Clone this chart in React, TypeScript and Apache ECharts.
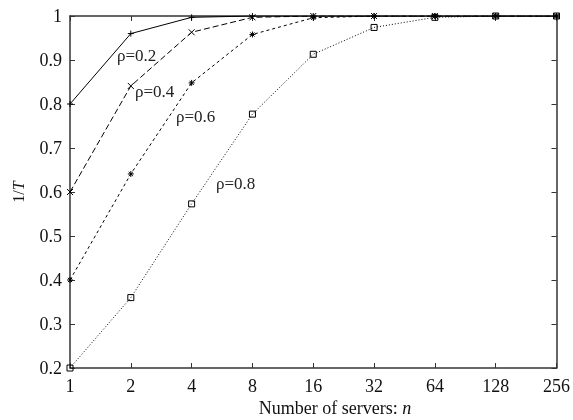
import React, { useEffect, useRef } from "react";
import * as echarts from "echarts";

const categories = ["1", "2", "4", "8", "16", "32", "64", "128", "256"];
const rho02 = [0.8, 0.96, 0.997, 1, 1, 1, 1, 1, 1];
const rho04 = [0.6, 0.841, 0.963, 0.997, 1, 1, 1, 1, 1];
const rho06 = [0.4, 0.641, 0.848, 0.958, 0.996, 1, 1, 1, 1];
const rho08 = [0.2, 0.36, 0.573, 0.777, 0.913, 0.974, 0.997, 1, 1];
const seriesNames = ["ρ=0.2", "ρ=0.4", "ρ=0.6", "ρ=0.8"];
const xTitle = "Number of servers: ";
const xTitleVar = "n";

const FONT = "'Liberation Serif', 'Times New Roman', serif";

export default function App() {
  const ref = useRef<HTMLDivElement>(null);
  useEffect(() => {
    if (!ref.current) return;
    const chart = echarts.init(ref.current, undefined, { renderer: "svg" });
    const plus = "path://M0,5L10,5M5,0L5,10";
    const cross = "path://M0,0L10,10M10,0L0,10";
    const star = "path://M0,5L10,5M5,0L5,10M1.5,1.5L8.5,8.5M8.5,1.5L1.5,8.5";
    const sq = "path://M0,0L10,0L10,10L0,10Z";
    const mk = (
      name: string,
      data: number[],
      type: any,
      symbol: string,
      size: number
    ) => ({
      name,
      type: "line",
      data,
      symbol,
      symbolSize: size,
      showSymbol: true,
      lineStyle: { color: "#000", width: 1, type },
      itemStyle: { color: "none", borderColor: "#000", borderWidth: 1 },
      emphasis: { disabled: true },
    });
    const axisLine = { lineStyle: { color: "#333", width: 1.5 } };
    chart.setOption({
      animation: false,
      grid: { left: 70, right: 11, top: 16, bottom: 52 },
      xAxis: [
        {
          type: "category",
          data: categories,
          boundaryGap: false,
          axisLine,
          axisTick: { inside: true, length: 5, lineStyle: { color: "#333" } },
          axisLabel: {
            color: "#111",
            fontFamily: FONT,
            fontSize: 18,
            margin: 9,
          },
        },
        {
          type: "category",
          data: categories,
          boundaryGap: false,
          position: "top",
          axisLine,
          axisTick: { inside: true, length: 5, lineStyle: { color: "#333" } },
          axisLabel: { show: false },
        },
      ],
      yAxis: [
        {
          type: "value",
          min: 0.2,
          max: 1,
          interval: 0.1,
          axisLine: { show: true, ...axisLine },
          axisTick: { show: true, inside: true, length: 5, lineStyle: { color: "#333" } },
          splitLine: { show: false },
          axisLabel: {
            color: "#111",
            fontFamily: FONT,
            fontSize: 18,
            margin: 8,
            formatter: (v: number) => String(+v.toFixed(1)),
          },
          name: "1/{i|T}",
          nameLocation: "middle",
          nameGap: 44,
          nameRotate: 90,
          nameTextStyle: {
            color: "#111",
            fontFamily: FONT,
            fontSize: 16,
            rich: { i: { fontStyle: "italic", fontFamily: FONT, fontSize: 16 } },
          },
        },
        {
          type: "value",
          min: 0.2,
          max: 1,
          interval: 0.1,
          position: "right",
          axisLine: { show: true, ...axisLine },
          axisTick: { show: true, inside: true, length: 5, lineStyle: { color: "#333" } },
          splitLine: { show: false },
          axisLabel: { show: false },
        },
      ],
      series: [
        mk(seriesNames[0], rho02, "solid", plus, 6),
        mk(seriesNames[1], rho04, [6, 3], cross, 6),
        mk(seriesNames[2], rho06, [3, 3], star, 6),
        mk(seriesNames[3], rho08, [1, 2], sq, 6),
      ],
      graphic: [
        { type: "text", left: 117, top: 47, style: { text: seriesNames[0], font: `17px ${FONT}`, fill: "#222" } },
        { type: "text", left: 135, top: 83, style: { text: seriesNames[1], font: `17px ${FONT}`, fill: "#222" } },
        { type: "text", left: 176, top: 108, style: { text: seriesNames[2], font: `17px ${FONT}`, fill: "#222" } },
        { type: "text", left: 216, top: 175, style: { text: seriesNames[3], font: `17px ${FONT}`, fill: "#222" } },
        {
          type: "text",
          x: 335,
          y: 408,
          style: {
            text: xTitle + "{i|" + xTitleVar + "}",
            font: `18px ${FONT}`,
            fill: "#111",
            align: "center",
            verticalAlign: "middle",
            rich: { i: { fontStyle: "italic", fontFamily: FONT, fontSize: 18, fill: "#111" } },
          },
        },
      ],
    });
    return () => chart.dispose();
  }, []);
  return (
    <div
      ref={ref}
      style={{ position: "fixed", left: 0, top: 0, width: 573, height: 420 }}
    />
  );
}
